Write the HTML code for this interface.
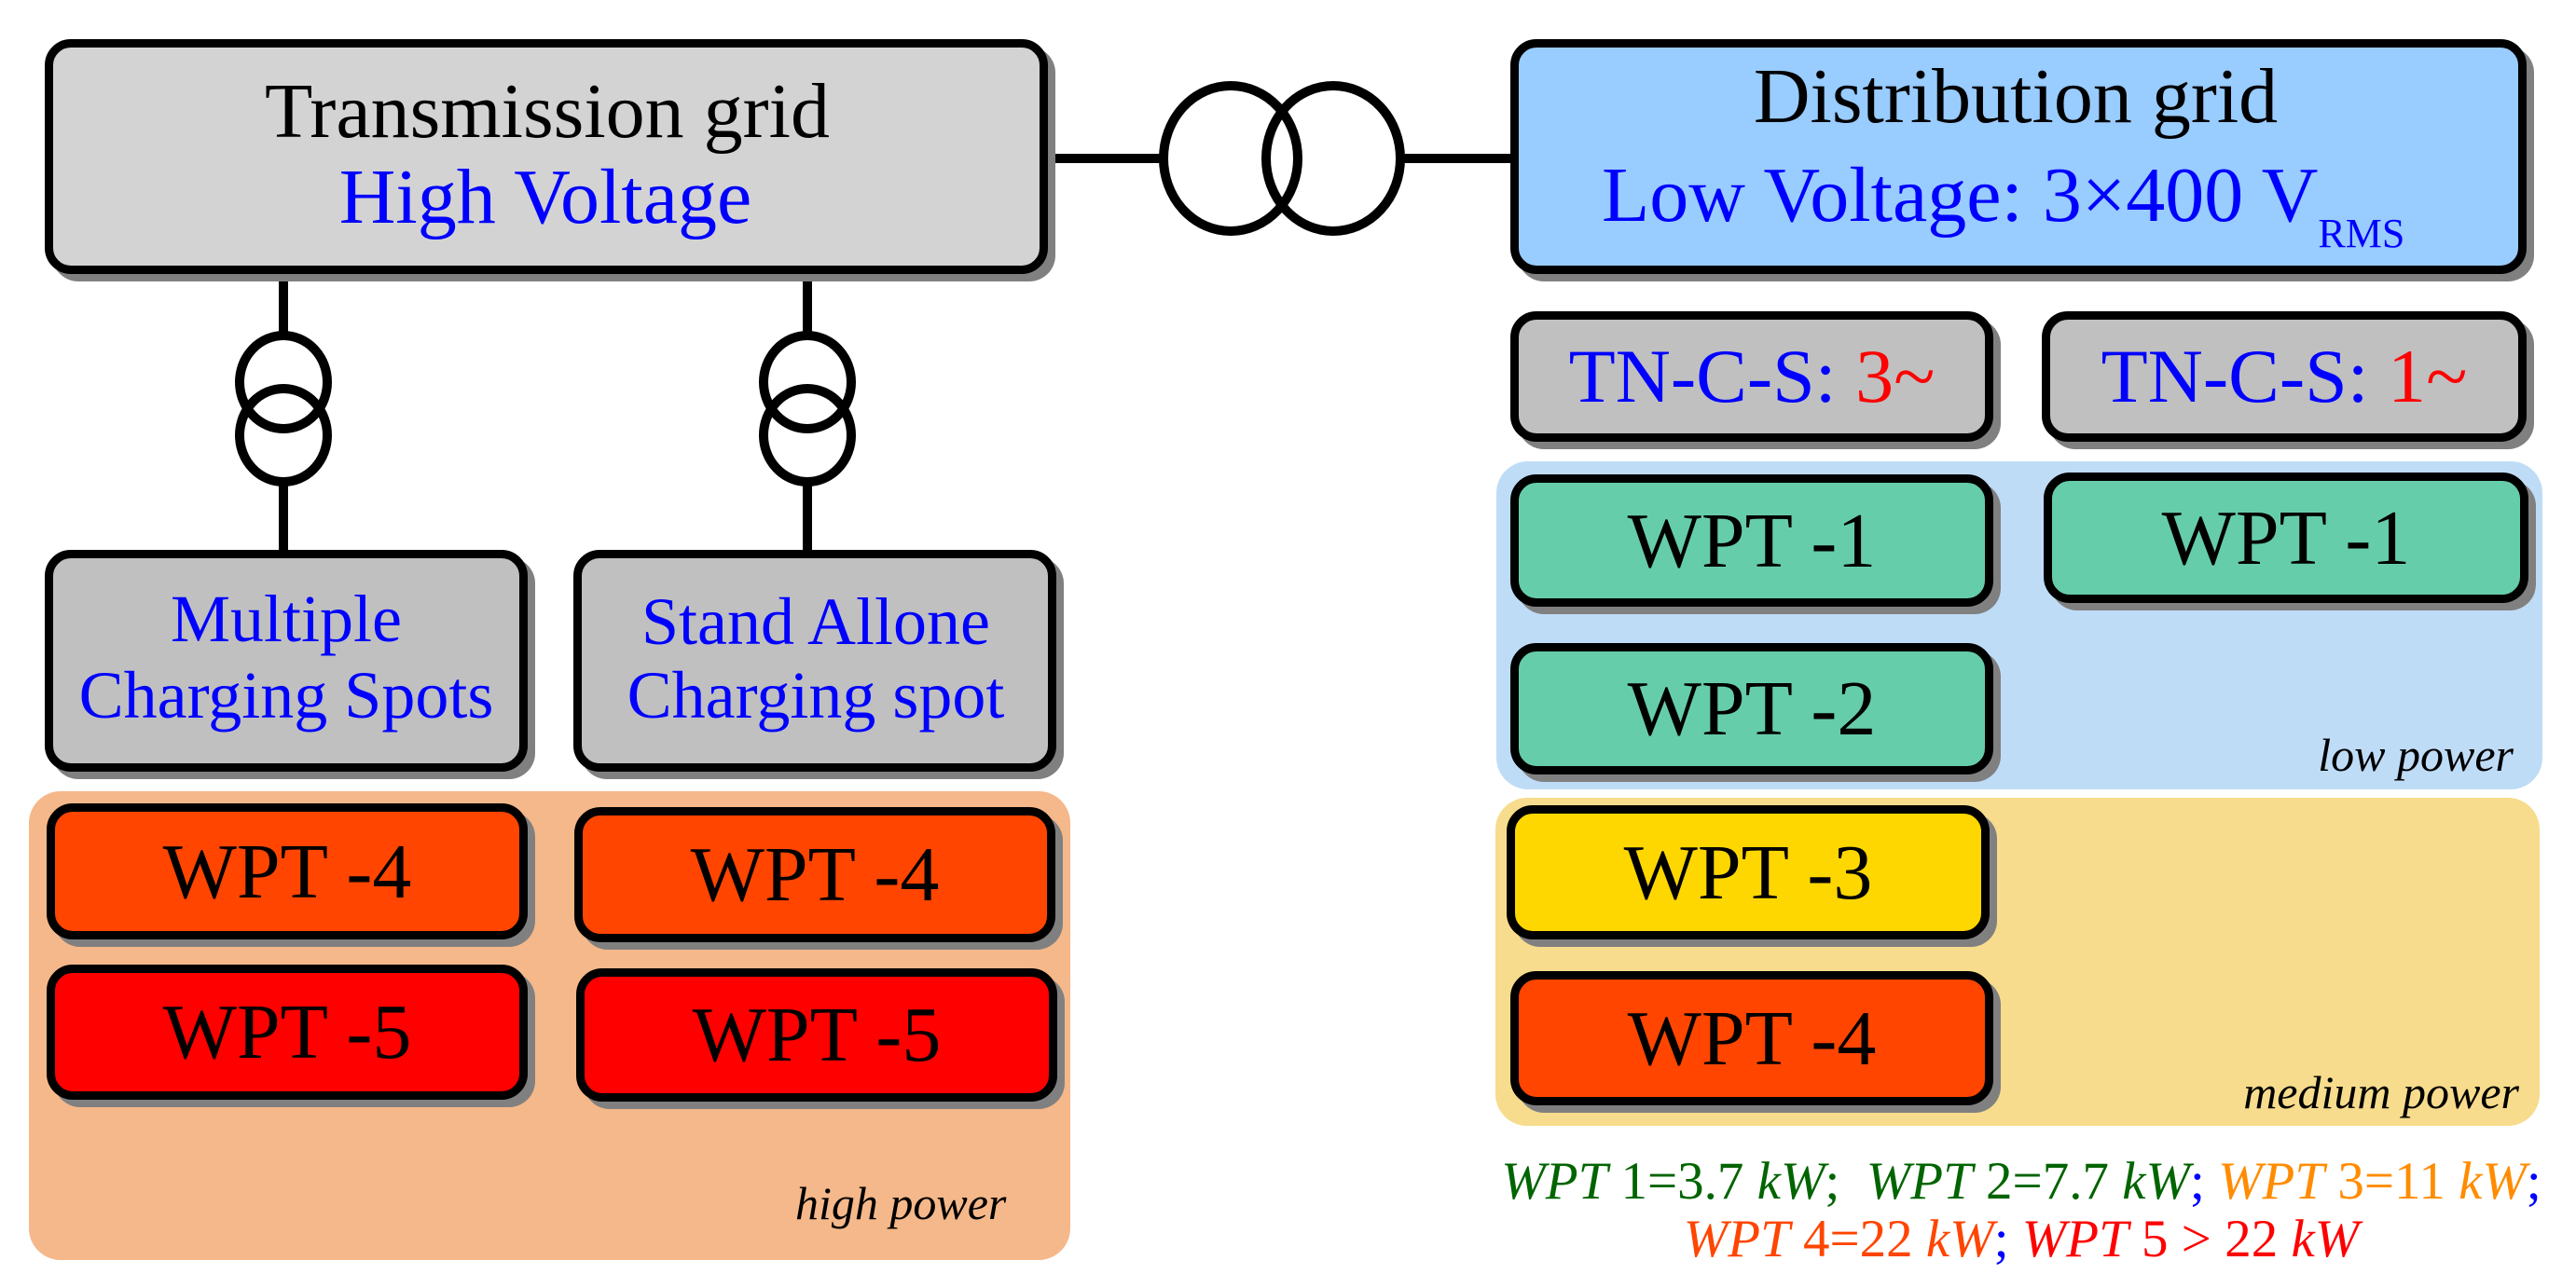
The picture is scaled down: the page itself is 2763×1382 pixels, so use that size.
<!DOCTYPE html>
<html><head><meta charset="utf-8"><style>
body{margin:0;width:2763px;height:1382px;background:#fff;position:relative;overflow:hidden;font-family:"Liberation Serif","Times New Roman",serif;}
.r{position:absolute;border-radius:34px;}
.b{position:absolute;box-sizing:border-box;border:9px solid #000;border-radius:28px;box-shadow:8px 8px 0 #808080;display:flex;align-items:center;justify-content:center;font-size:84px;color:#000;font-family:"Liberation Serif","Times New Roman",serif;}
.t{position:absolute;line-height:1;white-space:nowrap;text-align:center;font-family:"Liberation Serif",serif;}
.lab{position:absolute;font-style:italic;font-size:50px;line-height:1;white-space:nowrap;font-family:"Liberation Serif",serif;}
.bl{color:#0000ff}.rd{color:#ff0000}
.lg{position:absolute;width:1300px;left:1518px;text-align:center;font-size:57px;line-height:1;white-space:nowrap;font-family:"Liberation Serif",serif;}
.lg i{font-style:italic}
</style></head><body>
<div class="r" style="left:31px;top:849px;width:1117px;height:503px;background:#F5B88A"></div>
<div class="r" style="left:1605px;top:495px;width:1122px;height:352px;background:#BFDCF7"></div>
<div class="r" style="left:1604px;top:856px;width:1120px;height:352px;background:#F6DC8C"></div>

<svg style="position:absolute;left:0;top:0" width="2763" height="1382">
<g stroke="#000" stroke-width="10" fill="none">
<line x1="1120" y1="170" x2="1250" y2="170"/>
<line x1="1500" y1="170" x2="1630" y2="170"/>
<ellipse cx="1320" cy="170" rx="72" ry="78"/>
<ellipse cx="1430" cy="170" rx="72" ry="78"/>
<line x1="304" y1="290" x2="304" y2="362"/>
<line x1="304" y1="515" x2="304" y2="595"/>
<ellipse cx="304" cy="410" rx="47" ry="50"/>
<ellipse cx="304" cy="467" rx="47" ry="50"/>
<line x1="866" y1="290" x2="866" y2="362"/>
<line x1="866" y1="515" x2="866" y2="595"/>
<ellipse cx="866" cy="410" rx="47" ry="50"/>
<ellipse cx="866" cy="467" rx="47" ry="50"/>
</g></svg>

<div class="b" style="left:48px;top:42px;width:1076px;height:252px;background:#D3D3D3"></div>
<div class="t" style="left:87px;width:1000px;top:78px;font-size:84px">Transmission grid</div>
<div class="t bl" style="left:85px;width:1000px;top:170px;font-size:84px">High Voltage</div>

<div class="b" style="left:1620px;top:42px;width:1090px;height:252px;background:#99CCFF"></div>
<div class="t" style="left:1662px;width:1000px;top:62px;font-size:84px">Distribution grid</div>
<div class="t bl" style="left:1718px;top:168px;font-size:84px;text-align:left">Low Voltage: 3×400 V<span style="font-size:44px;position:relative;top:28px">RMS</span></div>

<div class="b" style="left:48px;top:590px;width:518px;height:238px;background:#C0C0C0"></div>
<div class="t bl" style="left:7px;width:600px;top:628px;font-size:72px">Multiple</div>
<div class="t bl" style="left:7px;width:600px;top:710px;font-size:72px">Charging Spots</div>
<div class="b" style="left:615px;top:590px;width:518px;height:238px;background:#C0C0C0"></div>
<div class="t bl" style="left:575px;width:600px;top:631px;font-size:72px">Stand Allone</div>
<div class="t bl" style="left:575px;width:600px;top:710px;font-size:72px">Charging spot</div>

<div class="b" style="left:50px;top:862px;width:516px;height:146px;background:#FF4500">WPT -4</div>
<div class="b" style="left:616px;top:866px;width:516px;height:145px;background:#FF4500">WPT -4</div>
<div class="b" style="left:50px;top:1035px;width:516px;height:145px;background:#FF0000">WPT -5</div>
<div class="b" style="left:618px;top:1039px;width:516px;height:143px;background:#FF0000">WPT -5</div>
<div class="lab" style="left:853px;top:1266px">high power</div>

<div class="b" style="left:1620px;top:334px;width:518px;height:140px;background:#C0C0C0;font-size:82px"><span class="bl">TN-C-S: </span><span class="rd">&nbsp;3~</span></div>
<div class="b" style="left:2190px;top:334px;width:520px;height:140px;background:#C0C0C0;font-size:82px"><span class="bl">TN-C-S: </span><span class="rd">&nbsp;1~</span></div>

<div class="b" style="left:1620px;top:509px;width:518px;height:142px;background:#66CDAA">WPT -1</div>
<div class="b" style="left:2192px;top:507px;width:520px;height:140px;background:#66CDAA">WPT -1</div>
<div class="b" style="left:1620px;top:690px;width:518px;height:141px;background:#66CDAA">WPT -2</div>
<div class="lab" style="right:67px;top:785px">low power</div>

<div class="b" style="left:1616px;top:864px;width:518px;height:144px;background:#FFD700">WPT -3</div>
<div class="b" style="left:1620px;top:1042px;width:518px;height:144px;background:#FF4500">WPT -4</div>
<div class="lab" style="right:61px;top:1147px">medium power</div>

<div class="lg" style="top:1239px"><span style="color:#006400"><i>WPT</i> 1=3.7 <i>kW</i>;&nbsp; <i>WPT</i> 2=7.7 <i>kW</i></span><span class="bl">;</span> <span style="color:#FF8C00"><i>WPT</i> 3=11 <i>kW</i></span><span class="bl">;</span></div>
<div class="lg" style="top:1301px"><span style="color:#FF4500"><i>WPT</i> 4=22 <i>kW</i></span><span class="bl">;</span> <span class="rd"><i>WPT</i> 5 &gt; 22 <i>kW</i></span></div>
</body></html>
